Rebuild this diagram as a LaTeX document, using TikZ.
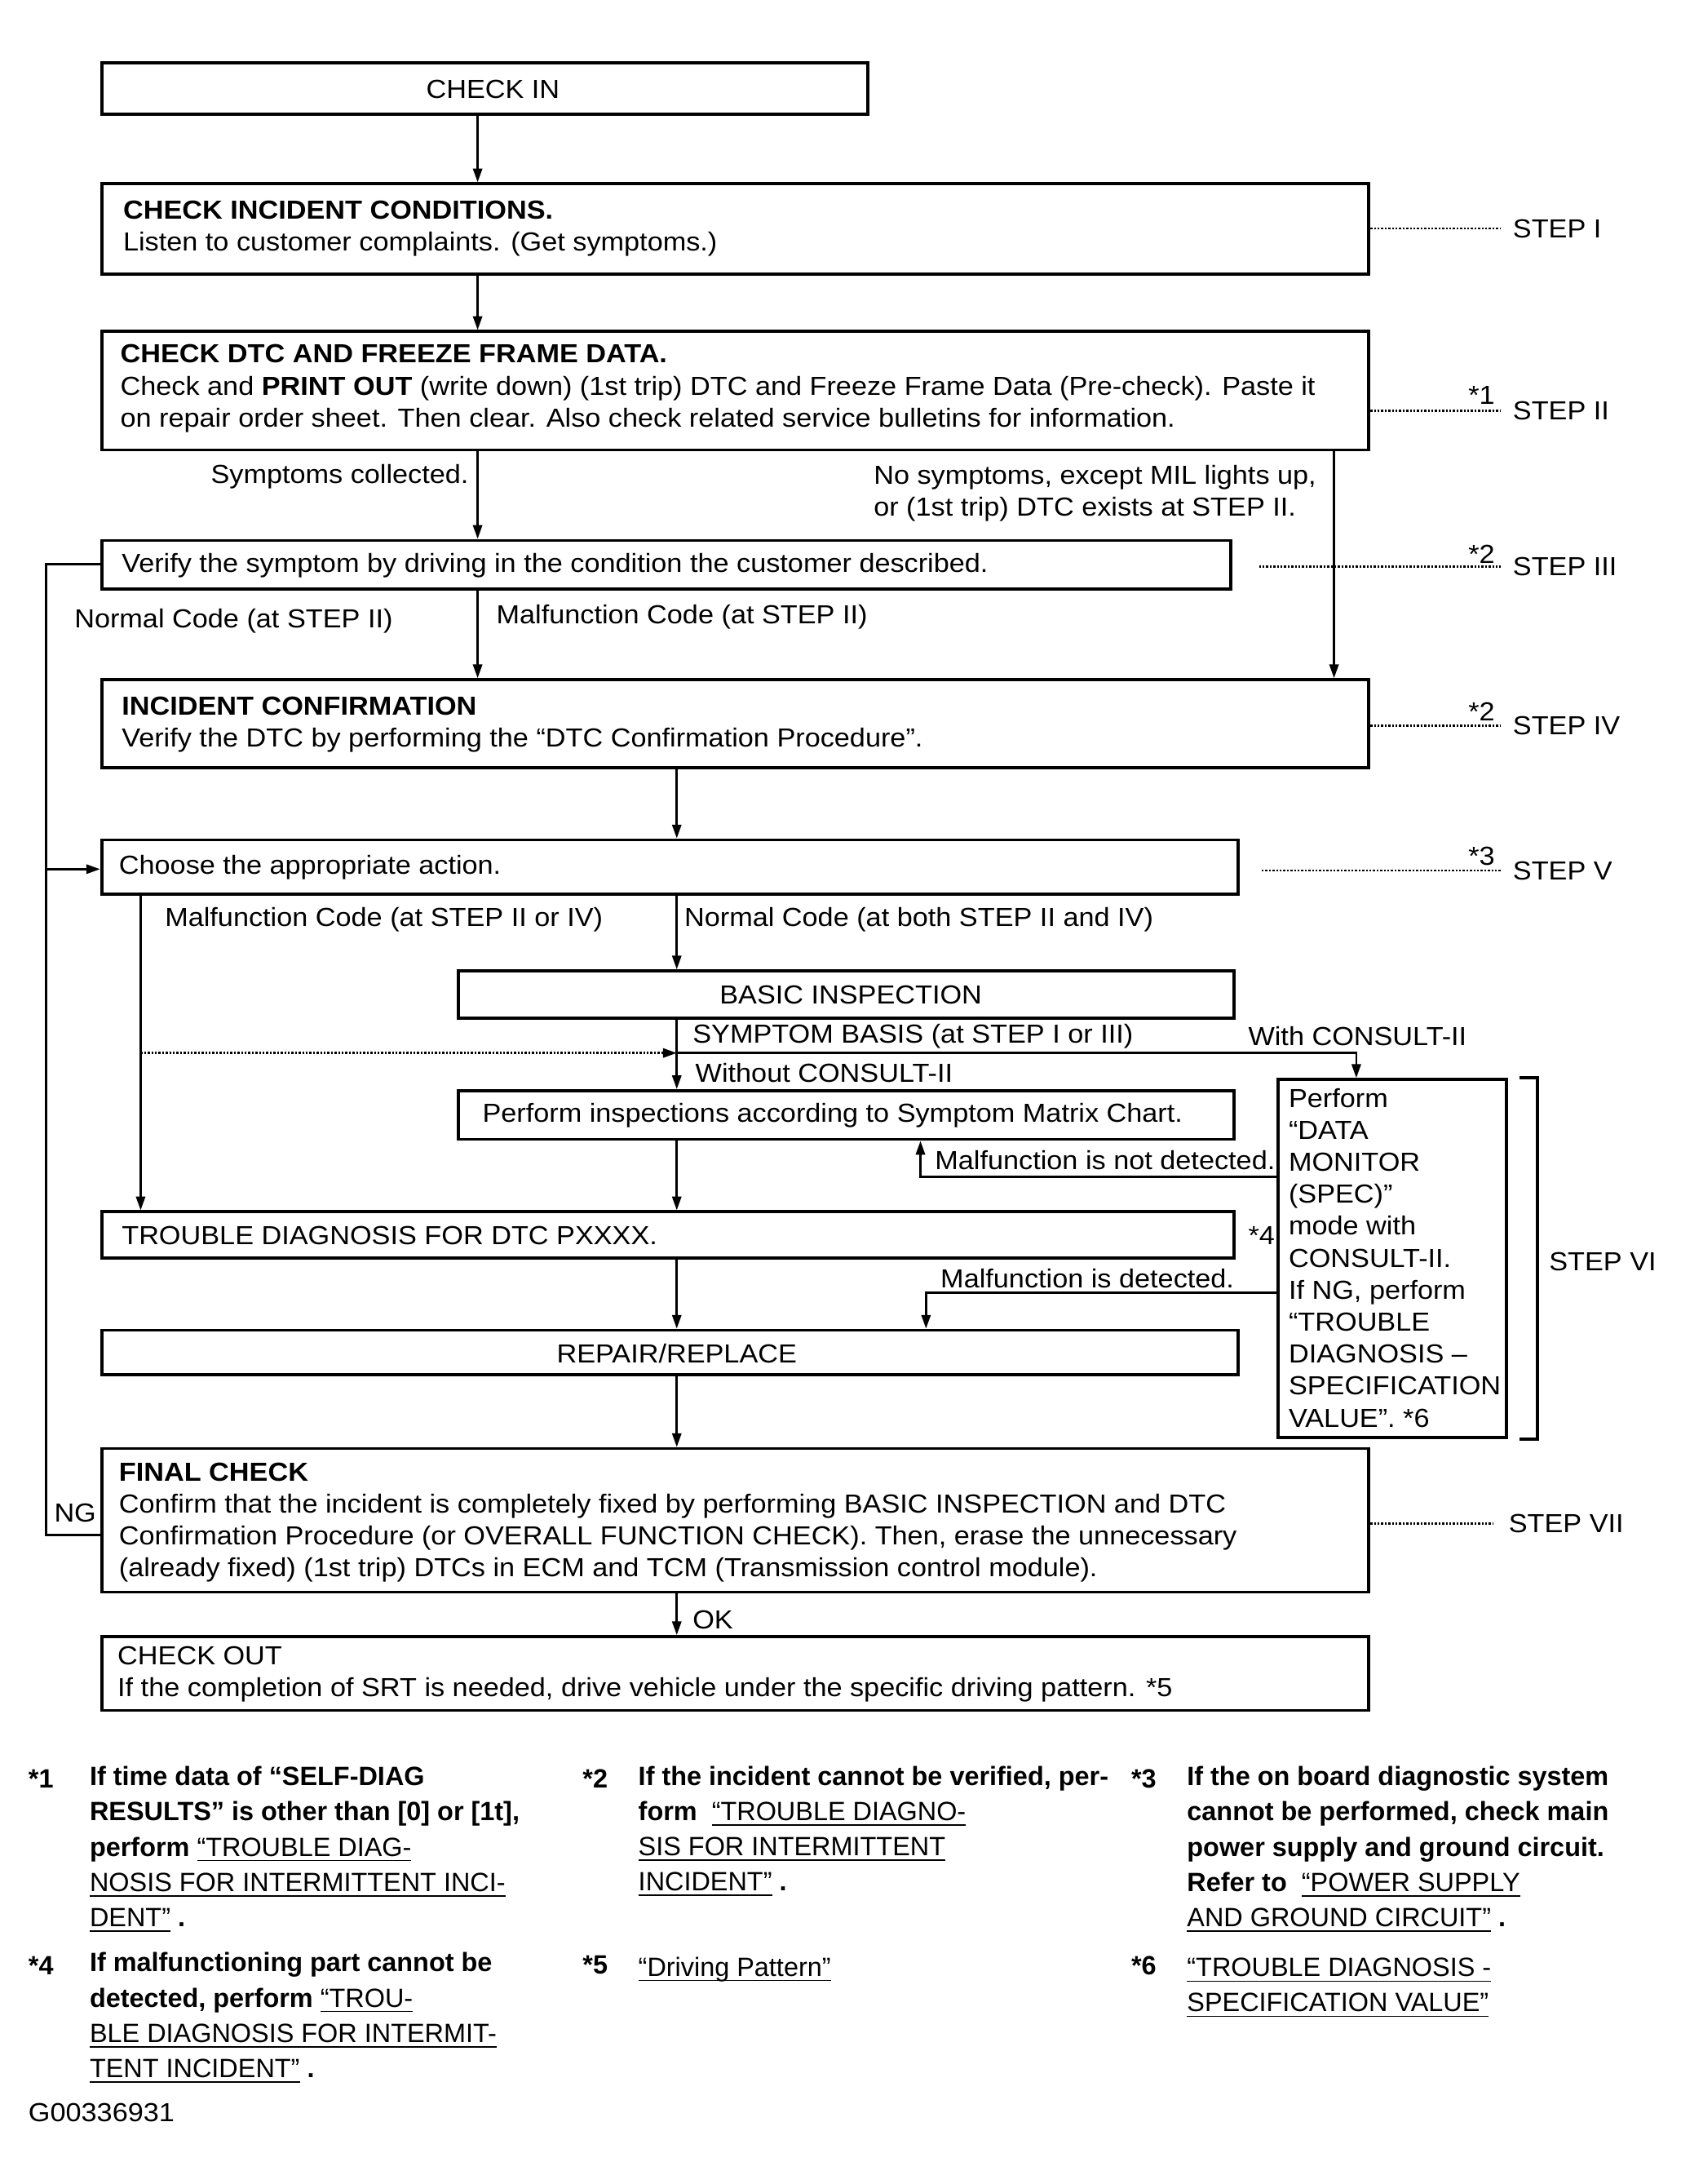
\documentclass[tikz,border=0pt]{standalone}
\usepackage{fontspec}
\setmainfont{Liberation Sans}[FakeStretch=1.07]
\newfontfamily\fnfont{Liberation Sans}
\usetikzlibrary{arrows.meta,fit}
\newcommand\lk[1]{\underline{\smash{\mdseries #1}}}
\begin{document}
\begin{tikzpicture}[x=0.42667pt,y=-0.42667pt,
  font=\fontsize{8}{9.8}\selectfont,
  box/.style={draw,line width=0.95pt,inner sep=0pt},
  txt/.style={inner sep=0pt,align=left,anchor=west},
  arr/.style={line width=0.65pt,-{Triangle[length=4.2pt,width=2.8pt]}},
  ln/.style={line width=0.65pt},
  dotln/.style={line width=0.7pt,dash pattern=on 0.6pt off 0.5pt},
  fn/.style={txt,font=\fnfont\fontsize{8.1}{10.77}\selectfont\bfseries}]
\fill[white] (0,0) rectangle (1207,1568);
\useasboundingbox (0,0) rectangle (1207,1568);

% ---------- boxes ----------
\node[box, fit={(73,45) (623,82)}] (checkin) {};
\node[txt, anchor=center] (checkin-t) at (354,64) {CHECK IN};

\node[box, fit={(73,132) (983,197)}] (cic) {};
\node[txt] (cic-t) at (88,164) {\textbf{CHECK INCIDENT CONDITIONS.}\\Listen to customer complaints. (Get symptoms.)};

\node[box, fit={(73,238) (983,323)}] (dtc) {};
\node[txt] (dtc-t) at (86,279) {\textbf{CHECK DTC AND FREEZE FRAME DATA.}\\Check and \textbf{PRINT OUT} (write down) (1st trip) DTC and Freeze Frame Data (Pre-check). Paste it\\on repair order sheet. Then clear. Also check related service bulletins for information.};

\node[box, fit={(73,388) (884,423)}] (verify) {};
\node[txt] (verify-t) at (87,406) {Verify the symptom by driving in the condition the customer described.};

\node[box, fit={(73,488) (983,551)}] (conf) {};
\node[txt] (conf-t) at (87,520) {\textbf{INCIDENT CONFIRMATION}\\Verify the DTC by performing the “DTC Confirmation Procedure”.};

\node[box, fit={(73,603) (889,642)}] (choose) {};
\node[txt] (choose-t) at (85,623) {Choose the appropriate action.};

\node[box, fit={(329,697) (886,731)}] (basic) {};
\node[txt, anchor=center] (basic-t) at (611,714) {BASIC INSPECTION};

\node[box, fit={(329,783) (886,818)}] (matrix) {};
\node[txt] (matrix-t) at (346,801) {Perform inspections according to Symptom Matrix Chart.};

\node[box, fit={(918,775) (1082,1032)}] (monitor) {};
\node[txt] (monitor-t) at (925,903) {Perform\\“DATA\\MONITOR\\(SPEC)”\\mode with\\CONSULT-II.\\If NG, perform\\“TROUBLE\\DIAGNOSIS –\\SPECIFICATION\\VALUE”. *6};

\node[box, fit={(73,870) (886,903)}] (tdiag) {};
\node[txt] (tdiag-t) at (87,887) {TROUBLE DIAGNOSIS FOR DTC PXXXX.};
\node[txt] (star4) at (896,887) {*4};

\node[box, fit={(73,955) (889,987)}] (repair) {};
\node[txt, anchor=center] (repair-t) at (486,972) {REPAIR/REPLACE};

\node[box, fit={(73,1040) (983,1143)}] (final) {};
\node[txt] (final-t) at (85,1093) {\textbf{FINAL CHECK}\\Confirm that the incident is completely fixed by performing BASIC INSPECTION and DTC\\Confirmation Procedure (or OVERALL FUNCTION CHECK). Then, erase the unnecessary\\(already fixed) (1st trip) DTCs in ECM and TCM (Transmission control module).};

\node[box, fit={(73,1175) (983,1228)}] (checkout) {};
\node[txt] (checkout-t) at (84,1202) {CHECK OUT\\If the completion of SRT is needed, drive vehicle under the specific driving pattern. *5};

% ---------- helper coordinates ----------
\coordinate (a33) at (33,0);
\coordinate (a101) at (101,0);
\coordinate (a343) at (343,0);
\coordinate (a486) at (486,0);
\coordinate (a661) at (661,0);
\coordinate (a665) at (665,0);
\coordinate (a958) at (958,0);
\coordinate (a974) at (974,0);
\coordinate (a1104) at (1104,0);
\coordinate (y405) at (0,405);
\coordinate (y624) at (0,624);
\coordinate (y756) at (0,756);
\coordinate (y845) at (0,845);
\coordinate (y928) at (0,928);
\coordinate (y1102) at (0,1102);

% ---------- connectors ----------
\draw[arr] (checkin.south -| a343) -- (cic.north -| a343);
\draw[arr] (cic.south -| a343) -- (dtc.north -| a343);
\draw[arr] (dtc.south -| a343) -- (verify.north -| a343);
\draw[arr] (dtc.south -| a958) -- (conf.north -| a958);
\draw[arr] (verify.south -| a343) -- (conf.north -| a343);
\draw[ln] (verify.west |- y405) -- (a33 |- y405) -- (a33 |- y1102) -- (final.west |- y1102);
\draw[arr] (a33 |- y624) -- (choose.west |- y624);
\draw[arr] (conf.south -| a486) -- (choose.north -| a486);
\draw[arr] (choose.south -| a101) -- (tdiag.north -| a101);
\draw[arr] (choose.south -| a486) -- (basic.north -| a486);
\draw[arr] (basic.south -| a486) -- (matrix.north -| a486);
\draw[arr, dash pattern=on 0.6pt off 0.5pt] (a101 |- y756) -- (a486 |- y756);
\draw[arr] (a486 |- y756) -- (a974 |- y756) -- (monitor.north -| a974);
\draw[arr] (monitor.west |- y845) -- (a661 |- y845) -- (matrix.south -| a661);
\draw[arr] (matrix.south -| a486) -- (tdiag.north -| a486);
\draw[arr] (tdiag.south -| a486) -- (repair.north -| a486);
\draw[arr] (monitor.west |- y928) -- (a665 |- y928) -- (repair.north -| a665);
\draw[arr] (repair.south -| a486) -- (final.north -| a486);
\draw[arr] (final.south -| a486) -- (checkout.north -| a486);

% ---------- connector labels ----------
\node[txt, anchor=east] (l-symp) at (337,342) {Symptoms collected.};
\node[txt] (l-nosymp) at (627,354) {No symptoms, except MIL lights up,\\or (1st trip) DTC exists at STEP II.};
\node[txt] (l-norm1) at (53,446) {Normal Code (at STEP II)};
\node[txt] (l-malf1) at (356,443) {Malfunction Code (at STEP II)};
\node[txt] (l-malf2) at (118,660) {Malfunction Code (at STEP II or IV)};
\node[txt] (l-norm2) at (491,660) {Normal Code (at both STEP II and IV)};
\node[txt] (l-sb) at (497,744) {SYMPTOM BASIS (at STEP I or III)};
\node[txt] (l-with) at (896,744) {With CONSULT-II};
\node[txt] (l-without) at (499,770) {Without CONSULT-II};
\node[txt] (l-notdet) at (671,833) {Malfunction is not detected.};
\node[txt] (l-det) at (675,918) {Malfunction is detected.};
\node[txt] (l-ok) at (497,1163) {OK};
\node[txt, anchor=center] (l-ng) at (54,1086) {NG};

% ---------- step labels ----------
\node[txt] (s1) at (1086,164) {STEP I};
\draw[dotln, shorten >=3.5pt] (cic.east |- s1) -- (s1.west);
\node[txt] (s2) at (1086,295) {STEP II};
\draw[dotln, shorten >=3.5pt] (dtc.east |- s2) -- (s2.west);
\node[txt, anchor=center] (n1) at (1064,284) {*1};
\node[txt] (s3) at (1086,407) {STEP III};
\draw[dotln, shorten >=3.5pt] ([xshift=8.1pt]verify.east |- s3) -- (s3.west);
\node[txt, anchor=center] (n2a) at (1064,398) {*2};
\node[txt] (s4) at (1086,521) {STEP IV};
\draw[dotln, shorten >=3.5pt] (conf.east |- s4) -- (s4.west);
\node[txt, anchor=center] (n2b) at (1064,511) {*2};
\node[txt] (s5) at (1086,625) {STEP V};
\draw[dotln, shorten >=3.5pt] ([xshift=6.8pt]choose.east |- s5) -- (s5.west);
\node[txt, anchor=center] (n3) at (1064,615) {*3};
\node[txt] (s6) at (1112,906) {STEP VI};
\draw[line width=0.95pt] ([xshift=3.4pt]monitor.north east) -- (a1104 |- monitor.north) -- (a1104 |- monitor.south) -- ([xshift=3.4pt]monitor.south east);
\node[txt] (s7) at (1083,1094) {STEP VII};
\draw[dotln, shorten >=4.5pt] (final.east |- s7) -- (s7.west);

% ---------- footnotes ----------
\node[fn] (f1m) at (20,1277) {*1};
\node[fn] (f1) at (64,1328) {If time data of “SELF-DIAG\\RESULTS” is other than [0] or [1t],\\perform \lk{“TROUBLE DIAG-}\\\lk{NOSIS FOR INTERMITTENT INCI-}\\\lk{DENT”} .};
\node[fn] (f2m) at (418,1277) {*2};
\node[fn] (f2) at (458,1315) {If the incident cannot be verified, per-\\form \ \lk{“TROUBLE DIAGNO-}\\\lk{SIS FOR INTERMITTENT}\\\lk{INCIDENT”} .};
\node[fn] (f3m) at (812,1277) {*3};
\node[fn] (f3) at (852,1328) {If the on board diagnostic system\\cannot be performed, check main\\power supply and ground circuit.\\Refer to \ \lk{“POWER SUPPLY}\\\lk{AND GROUND CIRCUIT”} .};
\node[fn] (f4m) at (20,1411) {*4};
\node[fn] (f4) at (64,1449) {If malfunctioning part cannot be\\detected, perform \lk{“TROU-}\\\lk{BLE DIAGNOSIS FOR INTERMIT-}\\\lk{TENT INCIDENT”} .};
\node[fn] (f5m) at (418,1411) {*5};
\node[fn] (f5) at (458,1421) {\lk{“Driving Pattern”}};
\node[fn] (f6m) at (812,1411) {*6};
\node[fn] (f6) at (852,1434) {\lk{“TROUBLE DIAGNOSIS -}\\\lk{SPECIFICATION VALUE”}};
\node[txt] (code) at (20,1517) {G00336931};
\end{tikzpicture}
\end{document}
